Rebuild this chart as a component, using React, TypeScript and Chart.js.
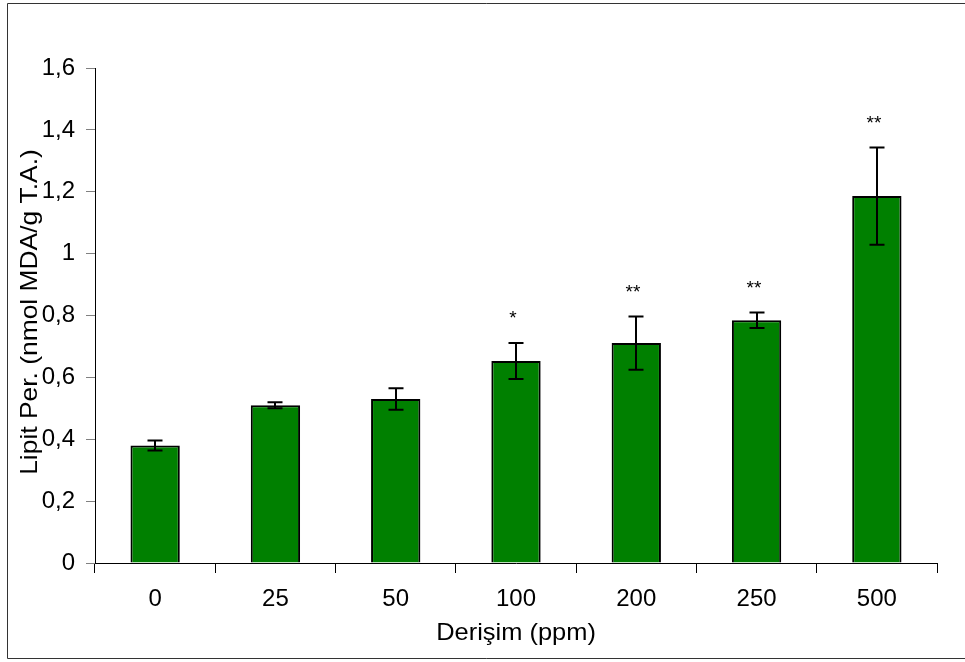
import React, { useEffect, useRef } from "react";
import { Chart, registerables } from "chart.js";

Chart.register(...registerables);

const categories = ["0", "25", "50", "100", "200", "250", "500"];
const values = [0.38, 0.51, 0.53, 0.653, 0.711, 0.785, 1.186];
const errors = [0.016, 0.01, 0.035, 0.058, 0.086, 0.025, 0.157];
const stars = ["", "", "", "*", "**", "**", "**"];
const yTickValues = [0, 0.2, 0.4, 0.6, 0.8, 1, 1.2, 1.4, 1.6];
const yTitle = "Lipit Per. (nmol MDA/g T.A.)";
const xTitle = "Derişim (ppm)";

const FONT = "'Liberation Sans', Arial, sans-serif";

const decorPlugin = {
  id: "decor",
  beforeDraw(chart: any) {
    const ctx = chart.ctx;
    ctx.save();
    ctx.fillStyle = "#ffffff";
    ctx.fillRect(0, 0, chart.width, chart.height);
    ctx.strokeStyle = "#333333";
    ctx.lineWidth = 1;
    ctx.beginPath();
    ctx.moveTo(chart.width + 2, 3.5);
    ctx.lineTo(7.5, 3.5);
    ctx.lineTo(7.5, 658.5);
    ctx.lineTo(chart.width + 2, 658.5);
    ctx.stroke();
    ctx.restore();
  },
  afterDatasetsDraw(chart: any) {
    const ctx = chart.ctx;
    const meta = chart.getDatasetMeta(0);
    const ys = chart.scales.y;
    ctx.save();
    ctx.strokeStyle = "#000000";
    ctx.lineWidth = 2;
    meta.data.forEach((bar: any, i: number) => {
      const x = Math.round(bar.x);
      const top = ys.getPixelForValue(values[i] + errors[i]);
      const bot = ys.getPixelForValue(values[i] - errors[i]);
      const cap = 7.5;
      ctx.beginPath();
      ctx.moveTo(x, top);
      ctx.lineTo(x, bot);
      ctx.moveTo(x - cap, top);
      ctx.lineTo(x + cap, top);
      ctx.moveTo(x - cap, bot);
      ctx.lineTo(x + cap, bot);
      ctx.stroke();
      if (stars[i]) {
        ctx.fillStyle = "#000000";
        ctx.font = `19px ${FONT}`;
        ctx.textAlign = "center";
        ctx.textBaseline = "middle";
        ctx.fillText(stars[i], x - 3, top - 24);
      }
    });
    // axis titles
    ctx.fillStyle = "#000000";
    ctx.font = `24px ${FONT}`;
    ctx.textAlign = "center";
    ctx.textBaseline = "middle";
    const ca = chart.chartArea;
    ctx.save();
    ctx.translate((ca.left + ca.right) / 2, 633);
    ctx.scale(1.06, 1);
    ctx.fillText(xTitle, 0, 0);
    ctx.restore();
    ctx.save();
    ctx.translate(30, 312);
    ctx.rotate(-Math.PI / 2);
    ctx.scale(1.1, 1);
    ctx.fillText(yTitle, 0, 0);
    ctx.restore();
    ctx.restore();
  },
};

export default function App() {
  const ref = useRef<HTMLCanvasElement>(null);
  useEffect(() => {
    if (!ref.current) return;
    const chart = new Chart(ref.current, {
      type: "bar",
      data: {
        labels: categories,
        datasets: [
          {
            data: values,
            backgroundColor: "#008000",
            borderColor: "#000000",
            borderWidth: 2,
            barPercentage: 0.41,
            categoryPercentage: 1,
          },
        ],
      },
      options: {
        animation: false,
        responsive: false,
        maintainAspectRatio: false,
        layout: { padding: { top: 68, right: 28, bottom: 0, left: 0 } },
        plugins: {
          legend: { display: false },
          tooltip: { enabled: false },
        },
        scales: {
          x: {
            afterFit: (s: any) => {
              s.height = 99;
            },
            grid: {
              offset: true,
              drawOnChartArea: false,
              drawTicks: true,
              tickLength: 10,
              color: "#000000",
            },
            border: { color: "#000000", width: 1 },
            ticks: {
              color: "#000000",
              font: { size: 24, family: FONT },
              padding: 12,
              maxRotation: 0,
            },
          },
          y: {
            min: 0,
            max: 1.6,
            afterFit: (s: any) => {
              s.width = 95;
            },
            afterBuildTicks: (s: any) => {
              s.ticks = yTickValues.map((v) => ({ value: v }));
            },
            grid: {
              drawOnChartArea: false,
              drawTicks: true,
              tickLength: 9,
              color: "#808080",
            },
            border: { color: "#000000", width: 1 },
            ticks: {
              color: "#000000",
              font: { size: 24, family: FONT },
              padding: 11,
              callback: (v: any) => String(Number(Number(v).toFixed(1))).replace(".", ","),
            },
          },
        },
      },
      plugins: [decorPlugin],
    });
    return () => chart.destroy();
  }, []);
  return (
    <div style={{ position: "absolute", left: 0, top: 0, width: 965, height: 662 }}>
      <canvas ref={ref} width={965} height={662} style={{ width: 965, height: 662, display: "block" }} />
    </div>
  );
}
